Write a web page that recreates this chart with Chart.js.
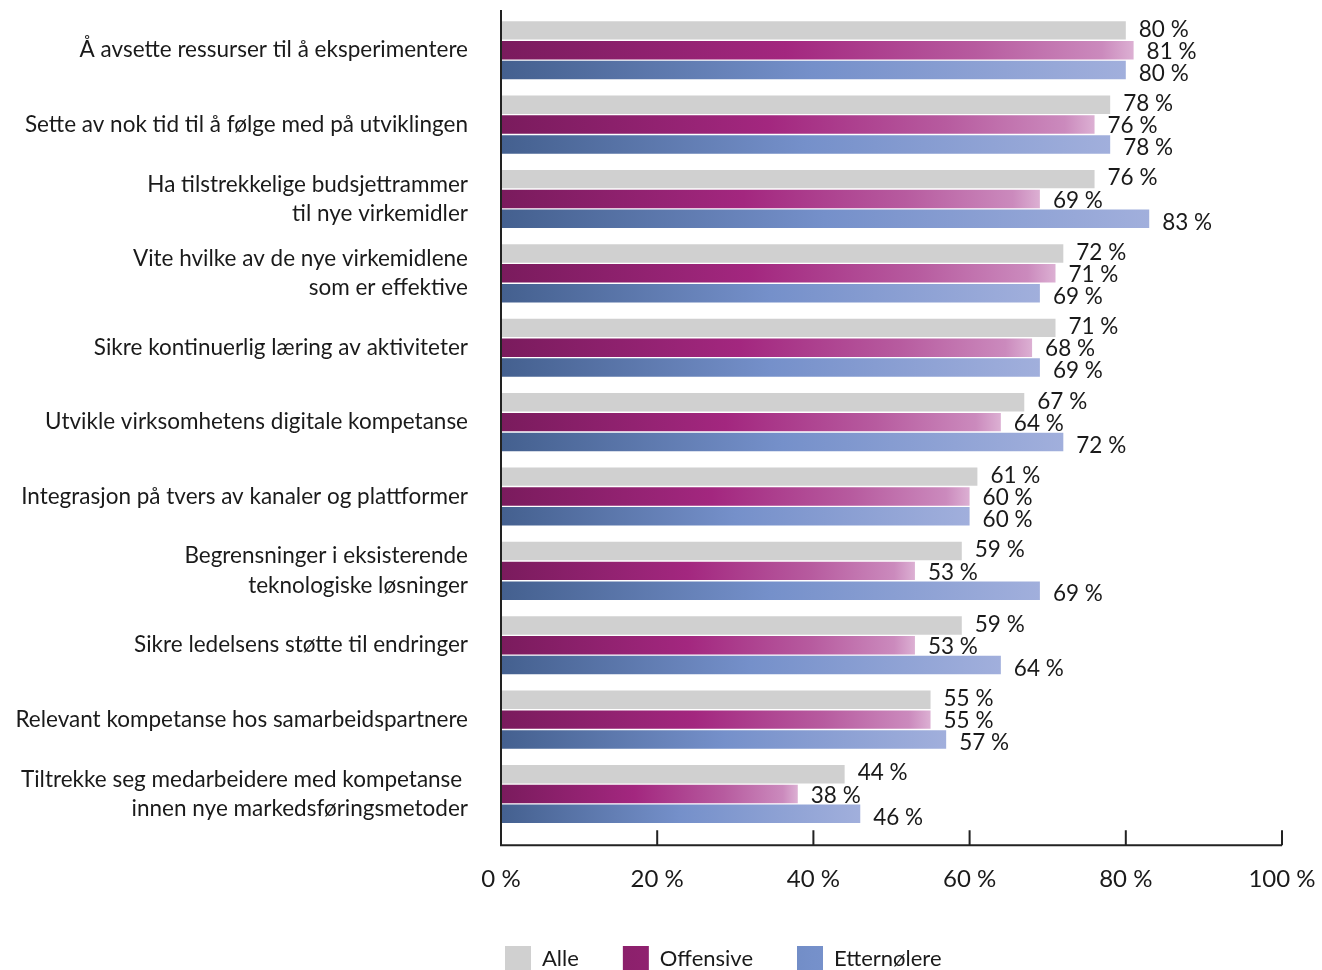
<!DOCTYPE html>
<html lang="no">
<head>
    <meta charset="UTF-8">
    <script src="https://cdn.jsdelivr.net/npm/chart.js@4/dist/chart.umd.min.js"></script>
    <title>Utfordringer</title>
    <style>
        body {
            margin: 0;
            background: #ffffff;
        }
        .chart-container {
            position: relative;
            width: 1322px;
            height: 970px;
        }
    </style>
</head>
<body>
    <div class="chart-container">
        <canvas id="myChart"></canvas>
    </div>

    <script>
        const categories = [
            'Å avsette ressurser til å eksperimentere',
            'Sette av nok tid til å følge med på utviklingen',
            ['Ha tilstrekkelige budsjettrammer', 'til nye virkemidler'],
            ['Vite hvilke av de nye virkemidlene', 'som er effektive'],
            'Sikre kontinuerlig læring av aktiviteter',
            'Utvikle virksomhetens digitale kompetanse',
            'Integrasjon på tvers av kanaler og plattformer',
            ['Begrensninger i eksisterende', 'teknologiske løsninger'],
            'Sikre ledelsens støtte til endringer',
            'Relevant kompetanse hos samarbeidspartnere',
            ['Tiltrekke seg medarbeidere med kompetanse ', 'innen nye markedsføringsmetoder']
        ];

        const alle        = [80, 78, 76, 72, 71, 67, 61, 59, 59, 55, 44];
        const offensive   = [81, 76, 69, 71, 68, 64, 60, 53, 53, 55, 38];
        const etternolere = [80, 78, 83, 69, 69, 72, 60, 69, 64, 57, 46];

        const xTicks = [0, 20, 40, 60, 80, 100];

        const FONT = 'Lato, "Open Sans", sans-serif';
        const TEXT = '#1a1a1a';

        // gradient runs along each bar, from the axis to the bar end
        function barGradient(stops, solid) {
            return function(ctx) {
                const chart = ctx.chart;
                if (ctx.type !== 'data' || !chart.chartArea) return solid;
                const x = chart.scales.x;
                const x0 = x.getPixelForValue(0);
                const x1 = x.getPixelForValue(ctx.raw);
                if (x1 - x0 < 1) return solid;
                const g = chart.ctx.createLinearGradient(x0, 0, x1, 0);
                stops.forEach(s => g.addColorStop(s[0], s[1]));
                return g;
            };
        }

        const magentaStops = [
            [0, '#7a1b5d'], [0.45, '#a3277f'], [0.75, '#b75b9f'],
            [0.95, '#cb8abd'], [1, '#dcb0d3']
        ];
        const blueStops = [
            [0, '#44608f'], [0.5, '#7590ca'], [1, '#a1afdc']
        ];

        // axis lines and tick marks sit a bit below the bars
        const axisPlugin = {
            id: 'axisLines',
            afterLayout(chart) {
                // nudge the legend down and left
                const lg = chart.legend;
                lg.top += 12; lg.bottom += 12;
                lg.left -= 40; lg.right -= 40;
            },
            afterDraw(chart) {
                const {ctx, chartArea, scales} = chart;
                const base = chartArea.bottom + 14;
                ctx.save();
                ctx.strokeStyle = '#222222';
                ctx.lineWidth = 2;
                ctx.beginPath();
                ctx.moveTo(chartArea.left, chartArea.top - 3);
                ctx.lineTo(chartArea.left, base);
                ctx.lineTo(scales.x.getPixelForValue(100), base);
                xTicks.forEach(t => {
                    const px = scales.x.getPixelForValue(t);
                    ctx.moveTo(px, base);
                    ctx.lineTo(px, base - 15);
                });
                ctx.stroke();
                ctx.restore();
            }
        };

        // value labels at the end of each bar, fanned out slightly
        const labelShift = [-1, 1.5, 3.5];
        const valuePlugin = {
            id: 'valueLabels',
            afterDatasetsDraw(chart) {
                const ctx = chart.ctx;
                ctx.save();
                ctx.font = '22.5px ' + FONT;
                ctx.fillStyle = TEXT;
                ctx.textAlign = 'left';
                ctx.textBaseline = 'middle';
                chart.data.datasets.forEach((ds, i) => {
                    chart.getDatasetMeta(i).data.forEach((bar, j) => {
                        ctx.fillText(ds.data[j] + ' %', bar.x + 13, bar.y + labelShift[i]);
                    });
                });
                ctx.restore();
            }
        };

        const data = {
            labels: categories,
            datasets: [
                {
                    label: 'Alle',
                    data: alle,
                    backgroundColor: '#d0d0d0'
                },
                {
                    label: 'Offensive',
                    data: offensive,
                    backgroundColor: barGradient(magentaStops, '#a62a82')
                },
                {
                    label: 'Etternølere',
                    data: etternolere,
                    backgroundColor: barGradient(blueStops, '#7690c8')
                }
            ]
        };

        const options = {
            indexAxis: 'y',
            responsive: true,
            maintainAspectRatio: false,
            animation: false,
            categoryPercentage: 0.8,
            barPercentage: 0.93,
            layout: {
                padding: {top: 13, right: 40, left: 0, bottom: 0}
            },
            scales: {
                x: {
                    min: 0,
                    max: 100,
                    grid: {display: false, drawTicks: false},
                    border: {display: false},
                    afterBuildTicks: function(scale) {
                        scale.ticks = xTicks.map(v => ({value: v}));
                    },
                    afterFit: function(scale) {
                        scale.paddingLeft = 0;
                        scale.paddingRight = 0;
                        scale.height -= 38;
                    },
                    ticks: {
                        color: TEXT,
                        padding: 34,
                        maxRotation: 0,
                        font: {family: FONT, size: 24},
                        callback: function(val) {
                            return val + ' %';
                        }
                    }
                },
                y: {
                    grid: {display: false, drawTicks: false},
                    border: {display: false},
                    afterFit: function(scale) {
                        scale.width = 501;
                        scale.paddingTop = 0;
                        scale.paddingBottom = 0;
                    },
                    ticks: {
                        color: TEXT,
                        padding: 33,
                        autoSkip: false,
                        font: {family: FONT, size: 22.5, lineHeight: 1.3}
                    }
                }
            },
            plugins: {
                legend: {
                    position: 'bottom',
                    align: 'start',
                    fullSize: false,
                    labels: {
                        color: TEXT,
                        boxWidth: 26,
                        boxHeight: 26,
                        padding: 44,
                        font: {family: FONT, size: 22}
                    }
                },
                tooltip: {enabled: false}
            }
        };

        const myChart = new Chart(document.getElementById('myChart'), {
            type: 'bar',
            data: data,
            options: options,
            plugins: [axisPlugin, valuePlugin]
        });
    </script>
</body>
</html>
